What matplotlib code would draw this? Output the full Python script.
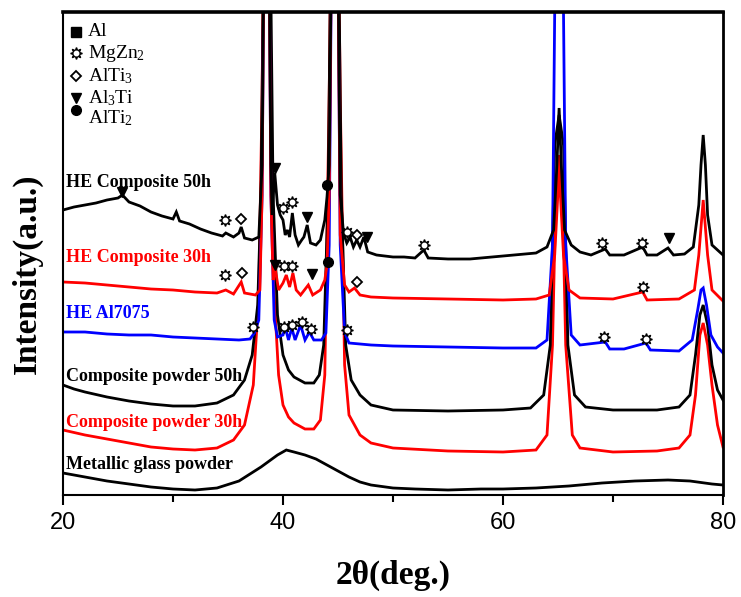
import matplotlib
matplotlib.use('Agg')
import matplotlib.pyplot as plt
from matplotlib.ticker import MultipleLocator

plt.rcParams['font.family'] = ['Liberation Serif', 'DejaVu Serif']
plt.rcParams['mathtext.default'] = 'regular'

# ---------------- data (2theta, intensity in a.u., stacked) ----------------
he50_x = [20.0, 21.0, 22.0, 23.0, 24.0, 25.0, 25.4, 26.0, 27.0, 28.0, 29.0, 30.0, 30.3, 30.6,
          31.5, 32.5, 33.5, 34.5, 34.8, 35.5, 36.0, 36.2, 36.5, 37.2, 37.8, 38.1, 38.3, 38.5,
          38.7, 38.9, 39.0, 39.25, 39.5, 39.75, 40.0, 40.2, 40.4, 40.6, 40.85, 41.1, 41.4, 41.7,
          41.9, 42.2, 42.5, 43.0, 43.4, 43.8, 44.0, 44.2, 44.45, 44.7, 44.95, 45.2, 45.5, 45.8,
          46.1, 46.4, 46.7, 47.0, 47.35, 47.7, 48.5, 50.0, 51.0, 52.0, 52.8, 53.2, 55.0, 57.0,
          59.0, 61.0, 63.0, 64.0, 64.6, 64.9, 65.1, 65.3, 65.6, 66.2, 67.0, 68.0, 69.3, 69.7,
          71.0, 72.7, 73.1, 74.0, 75.0, 75.5, 76.5, 77.3, 77.8, 78.0, 78.2, 78.4, 78.6, 79.0, 80.0]
he50_y = [285, 288, 290, 292, 295, 297, 300, 293, 289, 283, 279, 276, 283, 274,
          271, 266, 262, 259, 262, 258, 262, 268, 257, 255, 258, 330, 600, 900,
          600, 330, 280, 322, 290, 280, 275, 260, 265, 258, 282, 260, 250, 255,
          258, 270, 252, 250, 255, 275, 298, 330, 600, 900, 600, 300, 262, 252,
          258, 248, 255, 248, 258, 243, 240, 238, 238, 237, 245, 237, 236, 236,
          238, 240, 242, 248, 265, 330, 387, 330, 265, 250, 243, 240, 246, 240,
          240, 248, 240, 240, 247, 240, 241, 248, 290, 330, 360, 330, 280, 250, 240]

he30_x = [20.0, 22.0, 24.0, 26.0, 28.0, 30.0, 32.0, 34.0, 34.8, 35.5, 36.2, 36.5, 37.5, 37.9,
          38.1, 38.3, 38.5, 38.7, 38.9, 39.1, 39.3, 39.6, 40.0, 40.3, 40.6, 40.9, 41.2, 41.6,
          42.3, 42.7, 43.4, 43.8, 44.0, 44.2, 44.45, 44.7, 44.95, 45.2, 45.6, 46.0, 46.5, 47.0,
          48.0, 50.0, 55.0, 60.0, 63.0, 64.2, 64.7, 65.1, 65.5, 66.0, 67.0, 70.0, 72.7, 73.1,
          76.0, 77.4, 77.8, 78.2, 78.6, 79.0, 80.0]
he30_y = [213, 212, 210, 208, 206, 205, 203, 202, 205, 201, 213, 202, 200, 205,
          300, 600, 900, 600, 300, 215, 226, 205, 212, 220, 208, 222, 205, 200,
          210, 200, 205, 215, 230, 300, 600, 900, 600, 260, 210, 203, 207, 200,
          198, 197, 196, 195, 196, 200, 240, 325, 240, 205, 197, 196, 203, 195,
          196, 205, 240, 295, 240, 205, 194]

al7075_x = [20.0, 22.0, 24.0, 26.0, 28.0, 30.0, 32.0, 34.0, 36.0, 37.0, 37.4, 37.8, 38.1, 38.3,
            38.5, 38.7, 38.9, 39.2, 39.5, 40.0, 40.2, 40.5, 40.8, 41.1, 41.6, 42.0, 42.4, 42.8,
            43.5, 43.9, 44.2, 44.45, 44.7, 44.95, 45.2, 45.6, 46.0, 48.0, 50.0, 55.0, 60.0, 63.0,
            64.0, 64.5, 64.8, 65.1, 65.4, 65.7, 66.2, 67.0, 69.3, 69.7, 71.0, 73.0, 73.4, 76.0,
            77.2, 77.7, 78.0, 78.2, 78.5, 78.9, 79.5, 80.0]
al7075_y = [163, 163, 161, 160, 160, 158, 157, 156, 155, 156, 162, 175, 300, 600,
            900, 600, 300, 175, 158, 160, 168, 155, 167, 155, 170, 155, 163, 155,
            155, 162, 250, 600, 900, 600, 250, 163, 152, 150, 149, 148, 147, 147,
            155, 250, 600, 900, 600, 250, 160, 150, 153, 146, 146, 152, 145, 144,
            155, 185, 205, 207, 190, 160, 148, 142]

cp50_x = [20.0, 21.0, 22.0, 24.0, 26.0, 28.0, 30.0, 32.0, 34.0, 35.5, 36.5, 37.2, 37.7, 38.0,
          38.3, 38.5, 38.8, 39.1, 39.5, 40.0, 40.5, 41.0, 42.0, 42.8, 43.3, 43.7, 44.1, 44.4,
          44.7, 45.0, 45.3, 45.7, 46.2, 47.0, 48.0, 50.0, 55.0, 60.0, 62.5, 63.7, 64.3, 64.7,
          65.1, 65.5, 65.9, 66.5, 67.5, 70.0, 74.0, 76.0, 77.0, 77.5, 77.9, 78.2, 78.6, 79.0,
          79.5, 80.0]
cp50_y = [110, 106, 103, 98, 94, 91, 89, 89, 92, 100, 115, 140, 190, 300,
          600, 900, 600, 300, 180, 140, 125, 118, 112, 112, 120, 150, 300, 600,
          900, 600, 300, 150, 115, 100, 90, 85, 84, 85, 87, 100, 150, 350,
          380, 350, 150, 100, 88, 85, 85, 88, 100, 140, 180, 190, 170, 130,
          105, 95]

cp30_x = [20.0, 22.0, 24.0, 26.0, 28.0, 30.0, 32.0, 34.0, 35.5, 36.5, 37.3, 37.8, 38.1, 38.5,
          38.9, 39.2, 39.6, 40.0, 40.5, 41.0, 42.0, 42.8, 43.4, 43.8, 44.2, 44.7, 45.2, 45.6,
          46.0, 47.0, 48.0, 50.0, 55.0, 60.0, 63.0, 64.0, 64.5, 64.8, 65.1, 65.4, 65.7, 66.3,
          67.0, 70.0, 74.0, 76.0, 77.0, 77.5, 77.9, 78.2, 78.6, 79.0, 79.5, 80.0]
cp30_y = [65, 60, 56, 52, 48, 46, 45, 47, 55, 70, 110, 200, 400, 900,
          400, 200, 120, 90, 78, 72, 66, 66, 75, 120, 400, 900, 400, 130,
          80, 60, 52, 47, 44, 43, 45, 60, 150, 300, 340, 300, 150, 60,
          47, 43, 44, 47, 60, 100, 160, 172, 150, 110, 70, 48]

mg_x = [20.0, 22.0, 24.0, 26.0, 28.0, 30.0, 32.0, 34.0, 36.0, 38.0, 39.5, 40.3, 41.0, 42.0,
        43.0, 44.0, 45.0, 46.0, 47.0, 48.0, 50.0, 52.0, 55.0, 58.0, 60.0, 63.0, 66.0, 69.0,
        72.0, 75.0, 77.0, 79.0, 80.0]
mg_y = [22, 18, 14, 11, 8, 6, 5, 7, 14, 28, 40, 45, 43, 40,
        36, 30, 24, 18, 13, 10, 7, 6, 5, 6, 6, 7, 9, 12,
        14, 15, 14, 11, 10]

# phase markers (2theta, height)
al3ti_x = [25.4, 39.3, 42.2, 47.6, 75.1, 39.3, 42.6]
al3ti_y = [303, 327, 278, 258, 257, 230, 221]
mgzn2_x = [34.7, 40.0, 40.8, 45.8, 52.8, 69.0, 72.6,
           34.7, 40.1, 40.8, 72.7,
           37.3, 40.1, 40.8, 41.7, 42.5, 45.8, 69.2, 73.0]
mgzn2_y = [275, 287, 293, 263, 250, 252, 252,
           220, 229, 229, 208,
           168, 168, 170, 173, 166, 165, 158, 156]
alti3_x = [36.2, 46.7, 36.3, 46.7]
alti3_y = [276, 260, 222, 213]
alti2_x = [44.0, 44.1]
alti2_y = [310, 233]

curve_labels = ['HE Composite 50h', 'HE Composite 30h', 'HE Al7075',
                'Composite powder 50h', 'Composite powder 30h', 'Metallic glass powder']
curve_colors = ['black', '#ff0000', '#0000ff', 'black', '#ff0000', 'black']
label_y = [0.648, 0.491, 0.375, 0.246, 0.150, 0.064]

legend_names = ['Al', 'MgZn$_2$', 'AlTi$_3$', 'Al$_3$Ti', 'AlTi$_2$']

# ---------------- figure ----------------
fig = plt.figure(figsize=(7.41, 5.97), dpi=100)
ax = fig.add_axes([63/741, 102/597, 660/741, 483/597])

series = [(mg_x, mg_y, 'black'), (cp30_x, cp30_y, '#ff0000'), (cp50_x, cp50_y, 'black'),
          (al7075_x, al7075_y, '#0000ff'), (he30_x, he30_y, '#ff0000'), (he50_x, he50_y, 'black')]
for xs, ys, c in series:
    ax.plot(xs, ys, color=c, lw=2.0, solid_joinstyle='miter')

ms = 7
ax.plot(al3ti_x, al3ti_y, 'v', color='black', ms=ms, ls='none', zorder=5)
ax.plot(mgzn2_x, mgzn2_y, marker=(8, 1, 0), color='black', ms=ms + 1.5, ls='none', zorder=5)
ax.plot(mgzn2_x, mgzn2_y, 'o', color='white', ms=3.2, ls='none', zorder=6)
ax.plot(alti3_x, alti3_y, 'D', mfc='white', mec='black', mew=1.3, ms=ms - 1.5, ls='none', zorder=5)
ax.plot(alti2_x, alti2_y, 'o', color='black', ms=ms, ls='none', zorder=5)

# legend (drawn in axes fraction)
leg_py = [32, 53, 76, 98, 118]
leg_y = [(495 - p) / 483 for p in leg_py]
mx = 13 / 660
tx = 25 / 660
ax.plot([mx], [leg_y[0]], 's', color='black', ms=6.5, transform=ax.transAxes, clip_on=False)
ax.plot([mx], [leg_y[1]], marker=(8, 1, 0), color='black', ms=8.5, transform=ax.transAxes, clip_on=False)
ax.plot([mx], [leg_y[1]], 'o', color='white', ms=3.2, transform=ax.transAxes, clip_on=False)
ax.plot([mx], [leg_y[2]], 'D', mfc='white', mec='black', mew=1.3, ms=5.5, transform=ax.transAxes, clip_on=False)
ax.plot([mx], [leg_y[3]], 'v', color='black', ms=7, transform=ax.transAxes, clip_on=False)
ax.plot([mx], [leg_y[4] + 0.016], 'o', color='black', ms=7, transform=ax.transAxes, clip_on=False)
for name, yy in zip(legend_names, leg_y):
    ax.text(tx, yy, name, transform=ax.transAxes, fontsize=14, ha='left', va='center')

for lab, col, yy in zip(curve_labels, curve_colors, label_y):
    ax.text(0.004, yy, lab, transform=ax.transAxes, color=col, fontsize=13,
            fontweight='bold', ha='left', va='center')

ax.set_xlim(20, 80)
ax.set_ylim(0, 483)
ax.set_yticks([])
ax.set_xticks([20, 40, 60, 80])
ax.xaxis.set_minor_locator(MultipleLocator(10))
ax.tick_params(axis='x', which='major', direction='out', length=7, width=1.5,
               labelsize=17, pad=5)
ax.tick_params(axis='x', which='minor', direction='out', length=5, width=1.5)
for t in ax.get_xticklabels():
    t.set_fontfamily('Liberation Sans')

ax.spines['top'].set_linewidth(2.6)
ax.spines['right'].set_linewidth(2.0)
ax.spines['left'].set_linewidth(1.5)
ax.spines['bottom'].set_linewidth(1.5)

fig.text(393 / 741, 1 - 575 / 597, '2θ(deg.)', fontsize=24, fontweight='bold',
         ha='center', va='center')
fig.text(27 / 741, 1 - 274 / 597, 'Intensity(a.u.)', fontsize=24, fontweight='bold',
         ha='center', va='center', rotation=90)

fig.savefig('out.png', dpi=100)
